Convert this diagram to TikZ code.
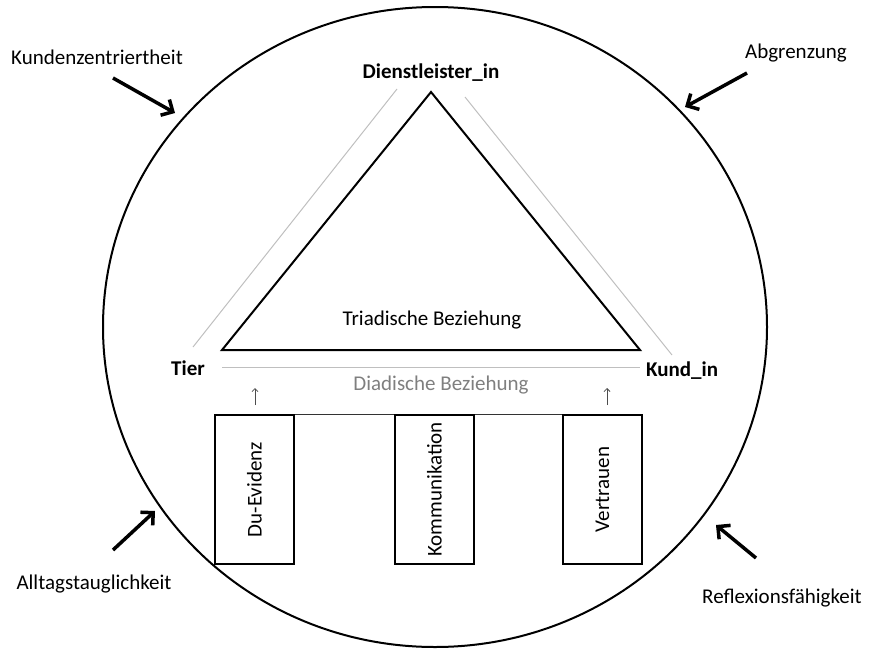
\documentclass[tikz,border=0pt]{standalone}
\usepackage{fontspec}
\setmainfont{Carlito}
\usepackage{tikz}
\usetikzlibrary{arrows.meta,positioning,calc}
\definecolor{lightline}{HTML}{BFBFBF}
\definecolor{diadgray}{HTML}{7F7F7F}

\begin{document}
\begin{tikzpicture}[x=1pt,y=-1pt,
    label/.style={inner sep=0pt, font=\fontsize{21}{25}\selectfont},
    role/.style={label, font=\fontsize{21}{25}\selectfont\bfseries},
    pillar/.style={draw=black, line width=1.5pt, rotate=90, minimum width=149pt, minimum height=79pt, inner sep=0pt, font=\fontsize{21}{25}\selectfont},
    push/.style={line width=3.5pt, -{Straight Barb[length=9pt, width=18pt, line width=3.5pt]}},
    rise/.style={line width=0.8pt, draw=black!70, -{Straight Barb[length=3pt, width=6pt]}}]
  \useasboundingbox (0,0) rectangle (870,651);

  \draw[line width=2pt] (435,327) ellipse [x radius=332pt, y radius=320pt];

  \coordinate (top) at (431,92);
  \coordinate (left) at (222,350);
  \coordinate (right) at (640,350);
  \draw[line width=2pt, line join=miter] (top) -- (left) -- (right) -- cycle;

  \node (dienst) [role] at (431,73) {Dienstleister\_in};
  \node (tier) [role] at (188,368) {Tier};
  \node (kund) [role] at (682,371) {Kund\_in};
  \node (triad) [label] at (432,320) {Triadische Beziehung};
  \node (diad) [label, text=diadgray] at (441,385) {Diadische Beziehung};

  \coordinate (gl1) at (397,89);
  \coordinate (gl2) at (193,347);
  \coordinate (gr1) at (465,97);
  \coordinate (gr2) at (672,355);
  \coordinate (gb1) at (222,367);
  \coordinate (gb2) at (640,367);
  \path [-] [line width=1pt, draw=lightline]
  (gl1) edge (gl2)
  (gr1) edge (gr2)
  (gb1) edge (gb2);

  \node (du) [pillar] at (254.5,489.5) {Du-Evidenz};
  \node (komm) [pillar] at (434.5,489.5) {Kommunikation};
  \node (vert) [pillar] at (602.5,489.5) {Vertrauen};
  \draw[line width=1pt, draw=black!80] (du.south east) -- (komm.north east);
  \draw[line width=1pt, draw=black!80] (komm.south east) -- (vert.north east);

  \coordinate (ra1) at (255,405);
  \coordinate (ra2) at (255,388);
  \coordinate (rb1) at (607,405);
  \coordinate (rb2) at (607,388);
  \draw[rise] (ra1) -- (ra2);
  \draw[rise] (rb1) -- (rb2);

  \node (kunden) [label] at (97,57) {Kundenzentriertheit};
  \node (abgr) [label] at (796,53) {Abgrenzung};
  \node (alltag) [label] at (94,584) {Alltagstauglichkeit};
  \node (refl) [label] at (782,598) {Reflexionsfähigkeit};

  \coordinate (k1) at (113,78);
  \coordinate (k2) at (175,113);
  \coordinate (a1) at (747,73);
  \coordinate (a2) at (685,107);
  \coordinate (t1) at (113,550);
  \coordinate (t2) at (155,511);
  \coordinate (r1) at (756,558);
  \coordinate (r2) at (716,525);
  \draw[push] (k1) -- (k2);
  \draw[push] (a1) -- (a2);
  \draw[push] (t1) -- (t2);
  \draw[push] (r1) -- (r2);
\end{tikzpicture}
\end{document}
